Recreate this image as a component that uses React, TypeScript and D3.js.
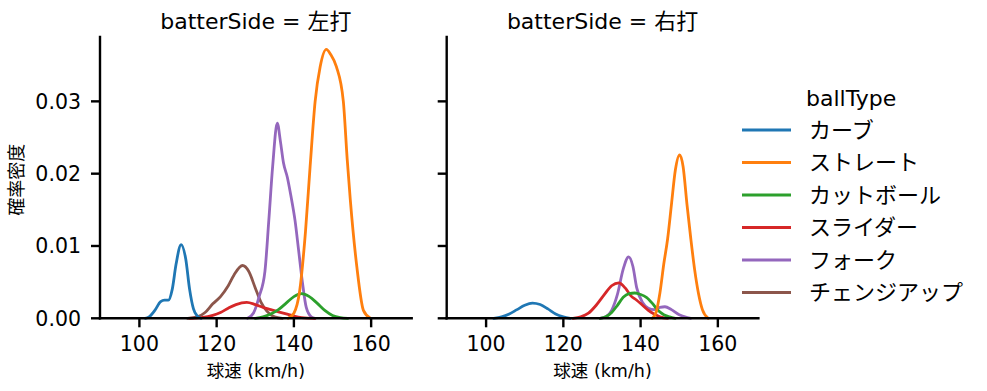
import React from "react";
import * as d3 from "d3";

const ballTypes = ["カーブ", "ストレート", "カットボール", "スライダー", "フォーク", "チェンジアップ"];
const colors = ["#1f77b4", "#ff7f0e", "#2ca02c", "#d62728", "#9467bd", "#8c564b"];
const panelNames = ["左打", "右打"];
const xTicks = [100, 120, 140, 160];
const yTicks = [0, 0.01, 0.02, 0.03];
const yTickLabels = ["0.00", "0.01", "0.02", "0.03"];

// 左打 : [球速, 確率密度]
const leftCurve: [number, number][] = [
  [101.5, 0], [102.5, 0.0002], [104, 0.0011], [105.5, 0.0023], [106.5, 0.0025], [107.5, 0.0025],
  [108.5, 0.004], [109.5, 0.0075], [110.8, 0.0102], [112, 0.0082], [113, 0.004], [114, 0.0013],
  [115, 0.0003], [116, 0],
];
const leftStraight: [number, number][] = [
  [138.5, 0], [140, 0.0007], [141.5, 0.0038], [143, 0.012], [144.2, 0.021], [145.5, 0.03],
  [146.8, 0.0348], [148.4, 0.0372], [149.5, 0.0365], [151, 0.0348], [152.8, 0.03], [153.8, 0.022],
  [154.6, 0.0164], [156.3, 0.0071], [158, 0.0011], [159.8, 0],
];
const leftCutter: [number, number][] = [
  [130, 0], [132, 0.0002], [134, 0.0006], [136, 0.0012], [138, 0.0021], [140, 0.003], [142, 0.0034],
  [144, 0.003], [146, 0.0021], [148, 0.0011], [150, 0.0004], [152, 0.0001], [154, 0],
];
const leftSlider: [number, number][] = [
  [113, 0], [116, 0.0001], [119, 0.0004], [121, 0.0008], [123, 0.0014], [125, 0.0019], [127.8, 0.0022],
  [130, 0.0019], [132, 0.0015], [134, 0.0012], [136, 0.0009], [138, 0.0006], [140, 0.0003],
  [142, 0.0001], [145.5, 0],
];
const leftFork: [number, number][] = [
  [128, 0], [129.5, 0.0007], [131, 0.003], [132.5, 0.0065], [133.5, 0.0135], [134.5, 0.021],
  [135.7, 0.027], [136.5, 0.0245], [137.3, 0.0215], [138.3, 0.0195], [139.2, 0.017], [140.3, 0.0135],
  [141.2, 0.0095], [142.2, 0.005], [143.2, 0.0015], [144.5, 0.0002], [145.5, 0],
];
const leftChangeup: [number, number][] = [
  [112.5, 0], [115, 0.0002], [117, 0.0008], [119, 0.002], [121, 0.003], [123, 0.0045], [124.5, 0.006],
  [126.7, 0.0073], [128.3, 0.0065], [130, 0.0042], [131.5, 0.0022], [133, 0.001], [135, 0.0002], [137, 0],
];

// 右打
const rightCurve: [number, number][] = [
  [102, 0], [104, 0.0002], [106, 0.0006], [108, 0.0012], [110, 0.0018], [112, 0.0021], [114, 0.0019],
  [116, 0.0013], [118, 0.0006], [120, 0.0002], [121.8, 0],
];
const rightStraight: [number, number][] = [
  [143, 0], [144, 0.0008], [145, 0.0035], [146, 0.0075], [147, 0.011], [148, 0.0158], [149, 0.0205],
  [150.1, 0.0226], [151, 0.021], [152, 0.0158], [153, 0.011], [154, 0.0067], [155, 0.0034],
  [156, 0.0012], [157.5, 0],
];
const rightCutter: [number, number][] = [
  [129.5, 0], [131, 0.0002], [132.5, 0.0008], [134, 0.0018], [135.5, 0.0029], [137, 0.0034],
  [138.5, 0.0035], [140, 0.0033], [141.5, 0.0029], [143, 0.0021], [144.5, 0.0011], [146, 0.0005],
  [147.5, 0.0002], [149, 0],
];
const rightSlider: [number, number][] = [
  [122.5, 0], [124.5, 0.0002], [126.5, 0.0007], [128.5, 0.0018], [130.5, 0.0032], [132.5, 0.0045],
  [134.4, 0.0049], [136, 0.0042], [137.5, 0.0031], [139, 0.0025], [140.5, 0.0018], [142, 0.0011],
  [143.5, 0.0006], [145, 0.0002], [147, 0],
];
const rightFork: [number, number][] = [
  [129.5, 0], [131, 0.0002], [132.5, 0.0011], [134, 0.0033], [135.5, 0.0068], [136.9, 0.0085],
  [138, 0.0072], [139, 0.0042], [140.5, 0.0022], [142, 0.0014], [143.5, 0.0012], [145, 0.0015],
  [146.3, 0.0016], [148, 0.0012], [150, 0.0005], [151.5, 0.0002], [153, 0],
];

const panelSeries: ([number, number][] | null)[][] = [
  [leftCurve, leftStraight, leftCutter, leftSlider, leftFork, leftChangeup],
  [rightCurve, rightStraight, rightCutter, rightSlider, rightFork, null],
];

const W = 987;
const H = 391;
const FONT = "'DejaVu Sans', 'Noto Sans CJK JP', sans-serif";
const panelX = [100, 446.7];
const panelW = 311.7;
const top = 37;
const bottom = 318.3;

export default function App() {
  const y = d3.scaleLinear().domain([0, 0.0389]).range([bottom, top]);
  return (
    <div style={{ position: "absolute", left: 0, top: 0 }}>
      <svg width={W} height={H} style={{ display: "block", background: "#fff" }}>
        {panelNames.map((name, pi) => {
          const x = d3.scaleLinear().domain([89.8, 170.5]).range([panelX[pi], panelX[pi] + panelW]);
          const line = d3
            .line<[number, number]>()
            .x((d) => x(d[0]))
            .y((d) => y(d[1]))
            .curve(d3.curveMonotoneX);
          const cx = panelX[pi] + panelW / 2;
          const order = d3.range(ballTypes.length).reverse();
          return (
            <g key={name}>
              {order.map((si) => {
                const s = panelSeries[pi][si];
                if (!s) return null;
                return (
                  <path key={si} d={line(s) || ""} fill="none" stroke={colors[si]} strokeWidth={2.8}
                    strokeLinejoin="round" strokeLinecap="round" />
                );
              })}
              {/* spines */}
              <line x1={panelX[pi]} x2={panelX[pi]} y1={top} y2={bottom} stroke="#000" strokeWidth={2.4} strokeLinecap="square" />
              <line x1={panelX[pi]} x2={panelX[pi] + panelW} y1={bottom} y2={bottom} stroke="#000" strokeWidth={2.4} strokeLinecap="square" />
              {xTicks.map((t) => (
                <g key={t}>
                  <line x1={x(t)} x2={x(t)} y1={bottom} y2={bottom + 9} stroke="#000" strokeWidth={2.4} />
                  <text x={x(t)} y={bottom + 33} textAnchor="middle" fontSize={20.5} fontFamily={FONT} fill="#000">{t}</text>
                </g>
              ))}
              {yTicks.map((t, i) => (
                <g key={t}>
                  <line x1={panelX[pi] - 9} x2={panelX[pi]} y1={y(t)} y2={y(t)} stroke="#000" strokeWidth={2.4} />
                  {pi === 0 && (
                    <text x={panelX[pi] - 19} y={y(t)} dy="0.36em" textAnchor="end" fontSize={20.5} fontFamily={FONT} fill="#000">{yTickLabels[i]}</text>
                  )}
                </g>
              ))}
              <text x={cx} y={29} textAnchor="middle" fontSize={22} fontFamily={FONT} fill="#000">{`batterSide = ${name}`}</text>
              <text x={cx} y={377} textAnchor="middle" fontSize={17.5} fontFamily={FONT} fill="#000">球速 (km/h)</text>
            </g>
          );
        })}
        <text transform={`translate(23,${(top + bottom) / 2 + 2}) rotate(-90)`} textAnchor="middle" fontSize={18} fontFamily={FONT} fill="#000">確率密度</text>
        {/* legend */}
        <text x={806} y={106} fontSize={22} fontFamily={FONT} fill="#000">ballType</text>
        {ballTypes.map((b, i) => {
          const ly = 130 + i * 32.5;
          return (
            <g key={b}>
              <line x1={742} x2={791} y1={ly} y2={ly} stroke={colors[i]} strokeWidth={2.8} />
              <text x={809} y={ly} dy="0.36em" fontSize={22} fontFamily={FONT} fill="#000">{b}</text>
            </g>
          );
        })}
      </svg>
    </div>
  );
}
